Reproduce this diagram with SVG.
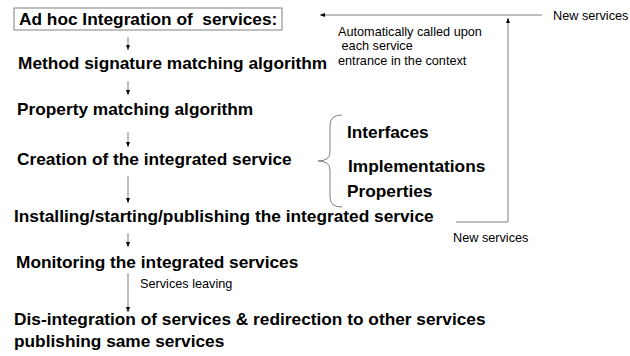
<svg xmlns="http://www.w3.org/2000/svg" width="630" height="356" viewBox="0 0 630 356">
<style>
.t{font-family:"Liberation Sans",Arial,sans-serif;font-weight:bold;font-size:17.3px;fill:#000}
.s{font-family:"Liberation Sans",Arial,sans-serif;font-size:12.7px;fill:#000}
.c{stroke:#808080;stroke-width:1;fill:none}
</style>
<defs>
<marker id="ah" markerWidth="6" markerHeight="6" refX="5" refY="3" orient="auto" markerUnits="userSpaceOnUse">
<path d="M0,1 L5,3 L0,5 z" fill="#000"/>
</marker>
</defs>
<rect width="630" height="356" fill="#fff"/>
<g id="n-adhoc"><rect x="14" y="8" width="268" height="22" fill="#fff" stroke="#808080"/><text class="t" x="19" y="25" font-size="18.2" xml:space="preserve">Ad hoc Integration of  services:</text></g>
<g id="n-method"><text class="t" x="18" y="69">Method signature matching algorithm</text></g>
<g id="n-property"><text class="t" x="17" y="115">Property matching algorithm</text></g>
<g id="n-creation"><text class="t" x="17" y="165">Creation of the integrated service</text></g>
<g id="n-installing"><text class="t" x="14" y="222">Installing/starting/publishing the integrated service</text></g>
<g id="n-monitoring"><text class="t" x="16" y="268">Monitoring the integrated services</text></g>
<g id="n-dis"><text class="t" x="14" y="325">Dis-integration of services &amp; redirection to other services</text><text class="t" x="14" y="347">publishing same services</text></g>
<g id="n-parts">
<path class="c" d="M342,115 Q330,115 330,125 L330,152 Q330,161 318,161 Q330,161 330,170 L330,197 Q330,207 342,207"/>
<text class="t" x="347" y="138">Interfaces</text>
<text class="t" x="348" y="172">Implementations</text>
<text class="t" x="347" y="197">Properties</text>
</g>
<g id="n-auto"><text class="s" x="338" y="36">Automatically called upon</text><text class="s" x="338" y="50" xml:space="preserve"> each service</text><text class="s" x="338" y="65">entrance in the context</text></g>
<g id="n-new-top"><text class="s" x="553" y="20">New services</text></g>
<g id="n-new-bottom"><text class="s" x="453" y="242">New services</text></g>
<g id="n-leaving"><text class="s" x="140" y="288" font-size="10.5">Services leaving</text></g>
<g id="connectors">
<line class="c" x1="128" y1="37" x2="128" y2="50" marker-end="url(#ah)"/>
<line class="c" x1="128" y1="81" x2="128" y2="95" marker-end="url(#ah)"/>
<line class="c" x1="128" y1="132" x2="128" y2="147" marker-end="url(#ah)"/>
<line class="c" x1="128" y1="176" x2="128" y2="203" marker-end="url(#ah)"/>
<line class="c" x1="128" y1="233" x2="128" y2="247" marker-end="url(#ah)"/>
<line class="c" x1="128" y1="273" x2="128" y2="312" marker-end="url(#ah)"/>
<line class="c" x1="542" y1="15" x2="320" y2="15" marker-end="url(#ah)"/>
<polyline class="c" points="456,222 508,222 508,18" marker-end="url(#ah)"/>
</g>
</svg>
